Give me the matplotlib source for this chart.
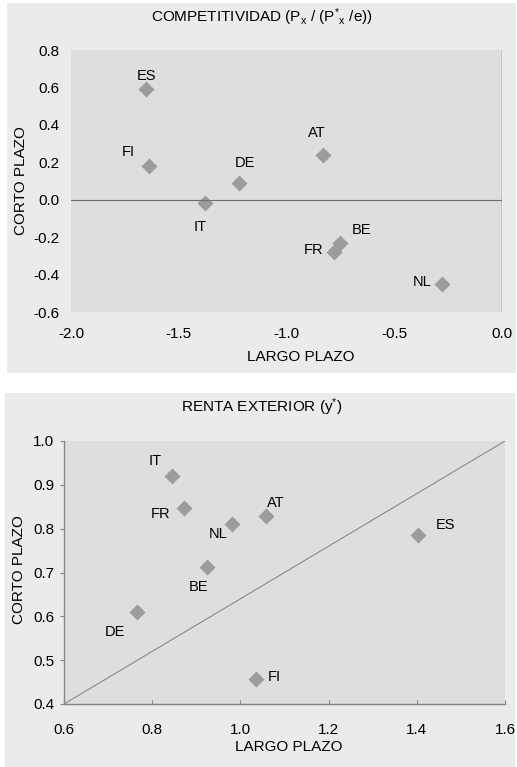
import matplotlib
matplotlib.use("Agg")
import matplotlib.pyplot as plt
from matplotlib.patches import Rectangle

plt.rcParams["font.family"] = ["Liberation Sans", "DejaVu Sans"]
plt.rcParams["mathtext.fontset"] = "custom"
plt.rcParams["mathtext.rm"] = "Liberation Sans"
plt.rcParams["mathtext.it"] = "Liberation Sans"

# ── data: competitividad (largo vs corto plazo)
comp_labels = ["ES", "FI", "IT", "DE", "AT", "BE", "FR", "NL"]
comp_largo  = [-1.65, -1.64, -1.38, -1.22, -0.83, -0.75, -0.78, -0.28]
comp_corto  = [0.59, 0.18, -0.02, 0.09, 0.24, -0.23, -0.28, -0.45]
comp_off    = [(0, 13), (-20, 14), (-4, -24), (6, 20), (-6, 22), (21, 13), (-20, 2), (-20, 2)]

# ── data: renta exterior
renta_labels = ["IT", "FR", "NL", "AT", "ES", "BE", "DE", "FI"]
renta_largo  = [0.846, 0.873, 0.982, 1.058, 1.402, 0.925, 0.765, 1.035]
renta_corto  = [0.920, 0.848, 0.811, 0.830, 0.785, 0.713, 0.610, 0.456]
renta_off    = [(-17, 15), (-24, -6), (-14, -10), (10, 13), (28, 10), (-9, -20), (-22, -20), (18, 2)]
diag_x = [0.6, 1.6]
diag_y = [0.4, 1.0]

OUTER = "#ebebeb"
INNER = "#dedede"
MARK  = "#9c9c9c"
AXC   = "#858585"
W, H = 517, 767
FS = 11
LFS = 10.5

fig = plt.figure(figsize=(W / 100, H / 100), dpi=100)
fig.patch.set_facecolor("white")
# panel backgrounds
fig.patches.append(Rectangle((7 / W, 1 - 373 / H), 509 / W, 370 / H,
                             transform=fig.transFigure, facecolor=OUTER, edgecolor="none", zorder=-5))
fig.patches.append(Rectangle((5 / W, 0), 510 / W, 1 - 393 / H,
                             transform=fig.transFigure, facecolor=OUTER, edgecolor="none", zorder=-5))

# ── top panel
ax1 = fig.add_axes([71 / W, 1 - 312 / H, 431 / W, 262 / H])
ax1.set_facecolor(INNER)
ax1.plot(comp_largo, comp_corto, "D", color=MARK, ms=8, mec="none")
for lab, x, y, off in zip(comp_labels, comp_largo, comp_corto, comp_off):
    ax1.annotate(lab, (x, y), xytext=off, textcoords="offset pixels",
                 ha="center", va="center", fontsize=LFS)
ax1.set_xlim(-2.0, 0.0)
ax1.set_ylim(-0.6, 0.8)
ax1.set_xticks([-2.0, -1.5, -1.0, -0.5, 0.0])
ax1.set_xticklabels(["-2.0", "-1.5", "-1.0", "-0.5", "0.0"])
ax1.set_yticks([-0.6, -0.4, -0.2, 0.0, 0.2, 0.4, 0.6, 0.8])
ax1.set_yticklabels([f"{v:.1f}" for v in [-0.6, -0.4, -0.2, 0.0, 0.2, 0.4, 0.6, 0.8]])
for s in ["top", "left", "bottom", "right"]:
    ax1.spines[s].set_visible(False)
ax1.axhline(0, color="#6e6e6e", lw=0.8)
ax1.axvline(0, color="#6e6e6e", lw=1.0)
ax1.tick_params(axis="x", length=0, labelsize=FS, pad=11)
ax1.tick_params(axis="y", length=0, labelsize=FS, pad=8)
ax1.set_xlabel("LARGO PLAZO", fontsize=FS, va="top")
ax1.xaxis.set_label_coords(0.534, -0.145)
ax1.set_ylabel("CORTO PLAZO", fontsize=FS)
ax1.yaxis.set_label_coords(-0.1, 0.5)
fig.text(262 / W, 1 - 22 / H,
         r"COMPETITIVIDAD (P$_\mathregular{x}$ / (P$^{*}$$_\mathregular{x}$ /e))",
         fontsize=FS, ha="center", va="baseline")

# ── bottom panel
ax2 = fig.add_axes([64 / W, 1 - 704 / H, 441 / W, 263 / H])
ax2.set_facecolor(INNER)
ax2.plot(diag_x, diag_y, color="#8a8a8a", lw=0.8)
ax2.plot(renta_largo, renta_corto, "D", color=MARK, ms=8, mec="none")
for lab, x, y, off in zip(renta_labels, renta_largo, renta_corto, renta_off):
    ax2.annotate(lab, (x, y), xytext=off, textcoords="offset pixels",
                 ha="center", va="center", fontsize=LFS)
ax2.set_xlim(0.6, 1.6)
ax2.set_ylim(0.4, 1.0)
ax2.set_xticks([0.6, 0.8, 1.0, 1.2, 1.4, 1.6])
ax2.set_xticklabels(["0.6", "0.8", "1.0", "1.2", "1.4", "1.6"])
ax2.set_yticks([0.4, 0.5, 0.6, 0.7, 0.8, 0.9, 1.0])
ax2.set_yticklabels(["0.4", "0.5", "0.6", "0.7", "0.8", "0.9", "1.0"])
ax2.spines["top"].set_visible(False)
ax2.spines["right"].set_visible(False)
for s in ["left", "bottom"]:
    ax2.spines[s].set_color(AXC)
    ax2.spines[s].set_linewidth(1.0)
ax2.tick_params(axis="y", direction="out", length=3, color=AXC, labelsize=FS, pad=4)
ax2.tick_params(axis="x", direction="in", length=3, color=AXC, labelsize=FS, pad=14)
ax2.set_xlabel("LARGO PLAZO", fontsize=FS, va="top")
ax2.xaxis.set_label_coords(0.51, -0.137)
ax2.set_ylabel("CORTO PLAZO", fontsize=FS)
ax2.yaxis.set_label_coords(-0.086, 0.51)
fig.text(262 / W, 1 - 412 / H, r"RENTA EXTERIOR (y$^{*}$)",
         fontsize=FS, ha="center", va="baseline")

fig.savefig("out.png", dpi=100)
